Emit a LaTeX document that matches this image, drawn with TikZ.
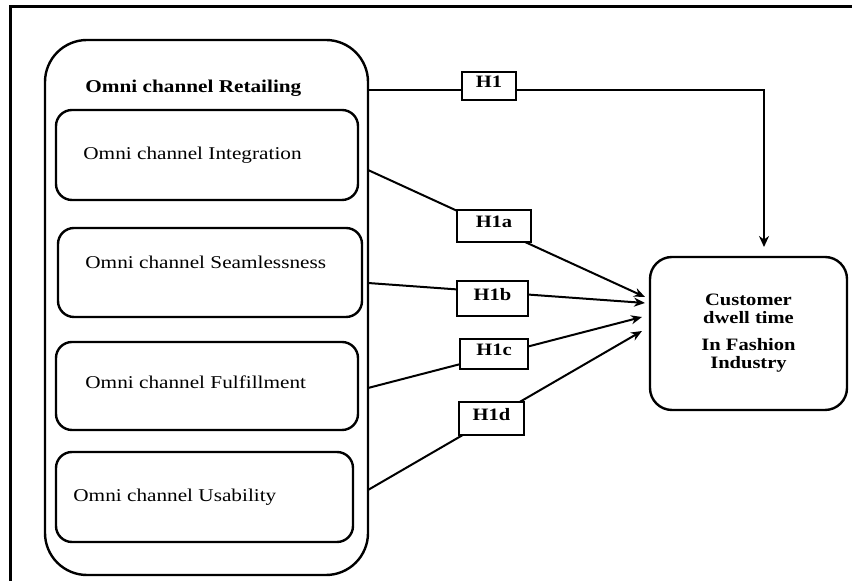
\documentclass[tikz,border=0pt]{standalone}
\usepackage{fontspec}
\setmainfont[FakeStretch=1.18]{Liberation Serif}
\usetikzlibrary{arrows.meta}
\begin{document}
\begin{tikzpicture}[x=0.5pt,y=-0.5pt,
  outerbox/.style={draw,line width=1.2pt,rounded corners=21pt,inner sep=0pt,outer sep=0pt},
  subbox/.style={draw,line width=1.2pt,rounded corners=8pt,inner sep=0pt,outer sep=0pt},
  custbox/.style={draw,line width=1.2pt,rounded corners=11pt,inner sep=0pt,outer sep=0pt,align=center,
    font=\fontsize{8.7}{9}\selectfont\bfseries},
  boxtext/.style={anchor=west,inner sep=0pt,font=\fontsize{9}{10}\selectfont},
  titletext/.style={anchor=west,inner sep=0pt,font=\fontsize{9}{10}\selectfont\bfseries},
  hbox/.style={draw,fill=white,line width=0.7pt,inner sep=0pt,outer sep=0pt,
    text height=6pt,text depth=4pt,font=\fontsize{8.7}{9}\selectfont\bfseries},
  conn/.style={line width=1pt,-{Stealth[length=5.5pt,width=4.5pt]}},
  mainconn/.style={line width=1.2pt,-{Stealth[length=5.5pt,width=5pt]}}
]
\useasboundingbox (0,0) rectangle (852,581);
% frame
\draw[line width=1.5pt] (10,581) -- (10,7) -- (852,7);

% big container
\node[outerbox,minimum width=161.5pt,minimum height=267.5pt] (big) at (206.5,307.5) {};
\node[titletext] (title) at (85,88) {Omni channel Retailing};

% sub boxes
\node[subbox,minimum width=151pt,minimum height=45pt] (b1) at (207,155) {};
\node[subbox,minimum width=152pt,minimum height=44.5pt] (b2) at (210,272.5) {};
\node[subbox,minimum width=151pt,minimum height=44pt] (b3) at (207,386) {};
\node[subbox,minimum width=148.5pt,minimum height=45pt] (b4) at (204.5,497) {};
\node[boxtext] (t1) at (83,155) {Omni channel Integration};
\node[boxtext] (t2) at (85,262) {Omni channel Seamlessness};
\node[boxtext] (t3) at (85,382) {Omni channel Fulfillment};
\node[boxtext] (t4) at (73,497) {Omni channel Usability};

% dependent box
\node[custbox,minimum width=98.5pt,minimum height=76.5pt] (cust) at (748.5,333.5)
  {Customer\\dwell time\\[4.5pt]In Fashion\\Industry};

% connector end points
\coordinate (p0) at (368,90);
\coordinate (q0) at (764,247);
\coordinate (p1) at (368,170);
\coordinate (p2) at (368,283);
\coordinate (p3) at (368,388);
\coordinate (p4) at (368,490);
\coordinate (q1) at (645,297);
\coordinate (q2) at (645,303);
\coordinate (q3) at (642,317);
\coordinate (q4) at (642,331);

% connectors
\draw[mainconn] (p0) -| (q0);
\draw[conn] (p1) -- (q1);
\draw[conn] (p2) -- (q2);
\draw[conn] (p3) -- (q3);
\draw[conn] (p4) -- (q4);

% hypothesis labels
\node[hbox,minimum width=27pt,minimum height=14pt] (h1) at (489,86) {H1};
\node[hbox,minimum width=37pt,minimum height=16pt] (h1a) at (494,226) {H1a};
\node[hbox,minimum width=35.5pt,minimum height=17.5pt] (h1b) at (492.5,298.5) {H1b};
\node[hbox,minimum width=34pt,minimum height=15pt] (h1c) at (494,354) {H1c};
\node[hbox,minimum width=32.5pt,minimum height=16.5pt] (h1d) at (491.5,418.5) {H1d};
\end{tikzpicture}
\end{document}
